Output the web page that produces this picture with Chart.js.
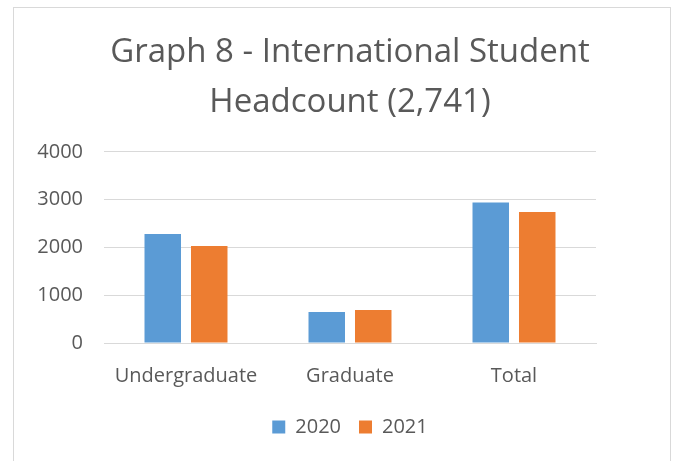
<!DOCTYPE html>
<html>
<head>
<meta charset="utf-8">
<script src="https://cdn.jsdelivr.net/npm/chart.js@4"></script>
<style>
  html, body { margin: 0; padding: 0; background: #fff; }
  #wrap { position: relative; width: 681px; height: 461px; }
  #frame {
    position: absolute; left: 13px; top: 7px; width: 658px; height: 470px;
    border: 1px solid #d9d9d9; box-sizing: border-box; pointer-events: none;
  }
</style>
</head>
<body>
<div id="wrap">
  <canvas id="chart" width="681" height="461"></canvas>
  <div id="frame"></div>
</div>
<script>
/* Graph 8 - International Student Headcount */

const categories = ['Undergraduate', 'Graduate', 'Total'];
const values2020 = [2280, 650, 2940];
const values2021 = [2030, 690, 2741];
const yTicks = [0, 1000, 2000, 3000, 4000];

const TEXT = '#595959';
const GRID = '#d9d9d9';
const FONT = "'Open Sans', 'Liberation Sans', sans-serif";

const canvas = document.getElementById('chart');

new Chart(canvas, {
  type: 'bar',
  data: {
    labels: categories,
    datasets: [
      { label: '2020', data: values2020, backgroundColor: '#5b9bd5' },
      { label: '2021', data: values2021, backgroundColor: '#ed7d31' }
    ]
  },
  options: {
    responsive: false,
    animation: false,
    layout: { padding: { left: 20, right: 1, top: 0, bottom: 14 } },
    datasets: { bar: { categoryPercentage: 0.567, barPercentage: 0.785 } },
    plugins: {
      title: {
        display: true,
        text: ['Graph 8 - International Student', 'Headcount (2,741)'],
        color: TEXT,
        font: { family: FONT, size: 33, weight: 'normal', lineHeight: 1.515 },
        padding: { top: 28, bottom: 24 }
      },
      legend: {
        position: 'bottom',
        labels: {
          color: TEXT,
          font: { family: FONT, size: 20 },
          boxWidth: 13,
          boxHeight: 13,
          padding: 18
        }
      },
      tooltip: { enabled: false }
    },
    scales: {
      x: {
        grid: { display: false, drawTicks: false },
        border: { display: true, color: GRID, width: 1 },
        afterFit: scale => { scale.height = 56; },
        ticks: { color: TEXT, font: { family: FONT, size: 20 }, padding: 21 }
      },
      y: {
        min: 0,
        max: 4000,
        afterBuildTicks: scale => { scale.ticks = yTicks.map(v => ({ value: v })); },
        afterFit: scale => { scale.width = 84; },
        grid: { color: GRID, lineWidth: 1, drawTicks: false },
        border: { display: false },
        ticks: {
          color: TEXT,
          font: { family: FONT, size: 20 },
          padding: 21,
          callback: v => String(v)
        }
      },
      // empty axis on the right, only to balance the plot inside the frame
      yRight: {
        position: 'right',
        min: 0,
        max: 4000,
        afterFit: scale => { scale.width = 84; },
        grid: { display: false, drawTicks: false },
        border: { display: false },
        ticks: { display: false }
      }
    }
  }
});
</script>
</body>
</html>
